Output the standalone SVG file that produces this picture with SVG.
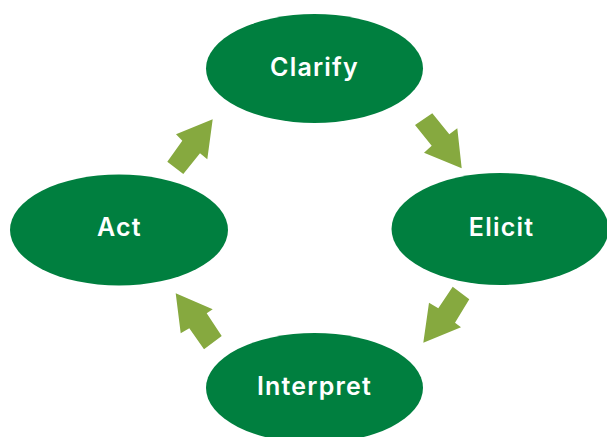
<svg xmlns="http://www.w3.org/2000/svg" width="607" height="437" viewBox="0 0 607 437">
<style>
.n{fill:#007F3F}
.t{fill:#fff;font-family:Inter,"Open Sans",sans-serif;font-weight:600;font-size:25px;letter-spacing:1.2px;text-anchor:middle}
.a{fill:#86A93F}
</style>
<rect width="607" height="437" fill="#fff"/>
<g id="connectors">
<polygon class="a" points="212.7,119.3 207.3,159.3 200,153.3 183.3,174 167.3,161.7 182.3,140.7 176,134.3"/>
<polygon class="a" points="461.7,168.3 424,152.7 431.7,145.7 415,125 432.3,113.3 449.3,134.3 457.3,128.3"/>
<polygon class="a" points="423.3,342.7 429,302.7 438.3,308.3 452.7,286.7 469.3,299.3 455,322.7 461,327.3"/>
<polygon class="a" points="175.7,293.3 212.7,309.3 206.7,313.3 221.7,336 204,349.3 189.3,328.3 180.7,333.3"/>
</g>
<g id="clarify"><ellipse class="n" cx="314.5" cy="68.5" rx="108.5" ry="54.5"/><text class="t" x="314.5" y="76">Clarify</text></g>
<g id="elicit"><ellipse class="n" cx="500" cy="229" rx="108.5" ry="56"/><text class="t" x="501.5" y="236">Elicit</text></g>
<g id="act"><ellipse class="n" cx="119" cy="230" rx="109" ry="55.5"/><text class="t" x="119.5" y="236">Act</text></g>
<g id="interpret"><ellipse class="n" cx="314.5" cy="388" rx="108.5" ry="55"/><text class="t" x="314.5" y="395">Interpret</text></g>
</svg>
